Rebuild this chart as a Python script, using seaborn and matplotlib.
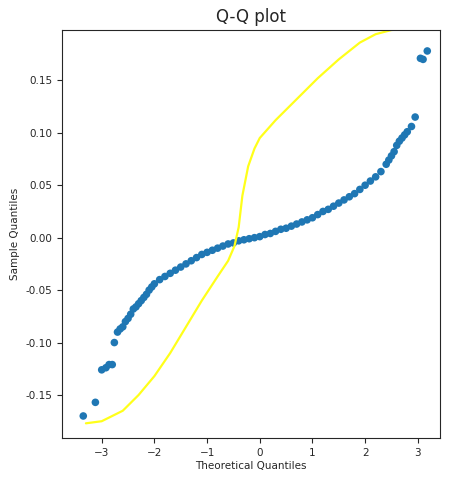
import matplotlib
matplotlib.use('Agg')
import matplotlib.pyplot as plt
import seaborn as sns
import pandas as pd

# Q-Q points
theoretical = [-3.35, -3.12, -3.0, -2.92, -2.86, -2.8, -2.76, -2.7, -2.65, -2.6, -2.55, -2.5,
               -2.45, -2.4, -2.35, -2.3, -2.25, -2.2, -2.15, -2.1, -2.05, -2.0, -1.9, -1.8,
               -1.7, -1.6, -1.5, -1.4, -1.3, -1.2, -1.1, -1.0, -0.9, -0.8, -0.7, -0.6, -0.5,
               -0.4, -0.3, -0.2, -0.1, 0.0, 0.1, 0.2, 0.3, 0.4, 0.5, 0.6, 0.7, 0.8, 0.9, 1.0,
               1.1, 1.2, 1.3, 1.4, 1.5, 1.6, 1.7, 1.8, 1.9, 2.0, 2.1, 2.2, 2.3, 2.4, 2.45,
               2.5, 2.55, 2.6, 2.65, 2.7, 2.75, 2.8, 2.88, 2.95, 3.05, 3.1, 3.18]
sample = [-0.170, -0.157, -0.126, -0.124, -0.121, -0.121, -0.100, -0.090, -0.087, -0.085,
          -0.080, -0.077, -0.073, -0.068, -0.066, -0.063, -0.060, -0.057, -0.054, -0.050,
          -0.047, -0.044, -0.040, -0.037, -0.034, -0.031, -0.028, -0.025, -0.022, -0.019,
          -0.016, -0.014, -0.012, -0.010, -0.008, -0.006, -0.005, -0.003, -0.002, -0.001,
          0.000, 0.001, 0.003, 0.004, 0.006, 0.008, 0.009, 0.011, 0.013, 0.015, 0.017,
          0.019, 0.022, 0.025, 0.027, 0.030, 0.033, 0.036, 0.039, 0.042, 0.046, 0.050,
          0.054, 0.058, 0.063, 0.070, 0.074, 0.078, 0.082, 0.088, 0.092, 0.095, 0.098,
          0.101, 0.106, 0.115, 0.171, 0.170, 0.178]

# hand-drawn yellow curve
curve_x = [-3.3, -3.0, -2.6, -2.3, -2.0, -1.7, -1.4, -1.1, -0.8, -0.6, -0.48, -0.4, -0.33,
           -0.22, -0.1, 0.0, 0.3, 0.7, 1.1, 1.5, 1.9, 2.2, 2.5, 2.8, 3.1]
curve_y = [-0.177, -0.175, -0.165, -0.150, -0.132, -0.110, -0.085, -0.060, -0.037, -0.022,
           -0.008, 0.010, 0.040, 0.068, 0.085, 0.095, 0.112, 0.132, 0.152, 0.170, 0.186,
           0.194, 0.198, 0.199, 0.199]

df = pd.DataFrame({'x': theoretical, 'y': sample})

sns.set_style('ticks')
fig = plt.figure(figsize=(4.54, 4.8), dpi=100)
ax = fig.add_axes([0.137, 0.0875, 0.832, 0.85])
sns.scatterplot(data=df, x='x', y='y', ax=ax, color='#1f77b4', edgecolor='none', s=30)
sns.lineplot(x=curve_x, y=curve_y, ax=ax, color='#ffff1a', linewidth=1.6, sort=False)

ax.set_xlim(-3.75, 3.42)
ax.set_ylim(-0.191, 0.198)
ax.set_xticks([-3, -2, -1, 0, 1, 2, 3])
ax.set_yticks([-0.15, -0.10, -0.05, 0.00, 0.05, 0.10, 0.15])
ax.set_yticklabels([f'{v:.2f}' for v in [-0.15, -0.10, -0.05, 0.00, 0.05, 0.10, 0.15]])
ax.tick_params(labelsize=7.5)
ax.set_xlabel('Theoretical Quantiles', fontsize=7.5, labelpad=2)
ax.set_ylabel('Sample Quantiles', fontsize=7.5)
ax.set_title('Q-Q plot', fontsize=12)

plt.savefig('out.png', dpi=100)
